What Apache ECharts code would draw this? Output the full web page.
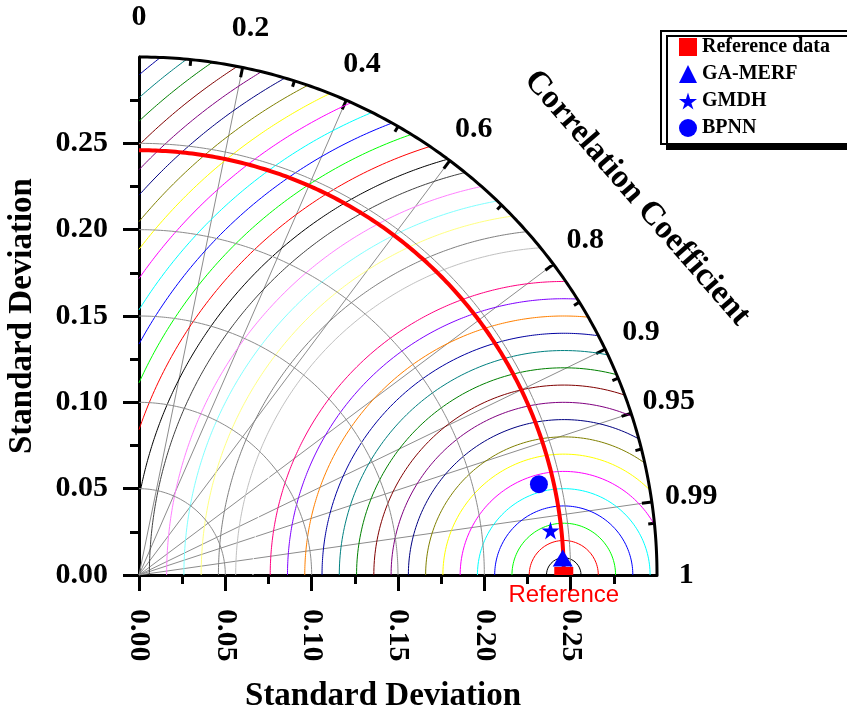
<!DOCTYPE html>
<html>
<head>
<meta charset="utf-8">
<script src="https://cdn.jsdelivr.net/npm/echarts@6/dist/echarts.min.js"></script>
<style>
  html, body { margin: 0; padding: 0; background: #fff; }
  #chart { width: 847px; height: 707px; }
</style>
</head>
<body>
<div id="chart"></div>
<script>
// Taylor diagram data
var refStd = 0.246;
var modelNames = ['GA-MERF', 'GMDH', 'BPNN'];
var modelStd = [0.2456, 0.2397, 0.2375];
var modelCorr = [0.9992, 0.9942, 0.9752];

var maxStd = 0.3;
var stdTicks = [0, 0.05, 0.10, 0.15, 0.20, 0.25];
var stdArcs = [0.05, 0.10, 0.15, 0.20, 0.25];
var corrMajor = [0.2, 0.4, 0.6, 0.8, 0.9, 0.95, 0.99];
var corrMinor = [0.1, 0.3, 0.5, 0.7, 0.85, 0.925, 0.97, 0.995];
var corrLabelValues = [0, 0.2, 0.4, 0.6, 0.8, 0.9, 0.95, 0.99, 1];
var corrLabels = ['0', '0.2', '0.4', '0.6', '0.8', '0.9', '0.95', '0.99', '1'];
var rmsLevels = [0.01, 0.02, 0.03, 0.04, 0.05, 0.06, 0.07, 0.08, 0.09, 0.10,
  0.11, 0.12, 0.13, 0.14, 0.15, 0.16, 0.17, 0.18, 0.19, 0.20,
  0.21, 0.22, 0.23, 0.24, 0.25, 0.26, 0.27, 0.28, 0.29, 0.30,
  0.31, 0.32, 0.33, 0.34, 0.35, 0.36, 0.37, 0.38];
// origin style colour cycle
var rmsColors = ['#000000', '#FF0000', '#00FF00', '#0000FF', '#00FFFF', '#FF00FF',
  '#FFFF00', '#808000', '#000080', '#800080', '#800000', '#008000',
  '#008080', '#0000A0', '#FF8000', '#8000FF', '#FF0080', '#FFFFFF',
  '#C0C0C0', '#808080', '#FFFF80', '#80FFFF', '#FF80FF', '#404040'];

var serif = 'Liberation Serif';
var starPath = 'path://M50,0 L61,35 L98,35 L68,57 L79,91 L50,70 L21,91 L32,57 L2,35 L39,35 Z';
var modelSymbols = ['triangle', starPath, 'circle'];
var modelSizes = [[20, 17], 18, 18];

function arcPoints(cx, r, a0, a1) {
  var pts = [];
  var n = 200;
  for (var i = 0; i <= n; i++) {
    var a = a0 + (a1 - a0) * i / n;
    pts.push([cx + r * Math.cos(a), r * Math.sin(a)]);
  }
  return pts;
}

function polar(s, corr) {
  var t = Math.acos(corr);
  return [s * Math.cos(t), s * Math.sin(t)];
}

var series = [];

// RMSD circles around the reference point, kept inside the quarter disk
rmsLevels.forEach(function (r, i) {
  var c = refStd, R = maxStd;
  var a0 = 0, a1 = Math.PI;
  if (c + r > R) {
    var x = (R * R - r * r + c * c) / (2 * c);
    a0 = Math.atan2(Math.sqrt(R * R - x * x), x - c);
  }
  if (r > c) {
    a1 = Math.atan2(Math.sqrt(r * r - c * c), -c);
  }
  if (a0 >= a1) return;
  series.push({
    type: 'line', silent: true, showSymbol: false, clip: false,
    data: arcPoints(c, r, a0, a1),
    lineStyle: { color: rmsColors[i % rmsColors.length], width: 1 }
  });
});

// standard deviation arcs
stdArcs.forEach(function (s) {
  series.push({
    type: 'line', silent: true, showSymbol: false, clip: false,
    data: arcPoints(0, s, 0, Math.PI / 2),
    lineStyle: { color: '#8c8c8c', width: 1 }
  });
});

// correlation radial lines
series.push({
  type: 'lines', coordinateSystem: 'cartesian2d', silent: true, polyline: false,
  data: corrMajor.map(function (c) { return { coords: [[0, 0], polar(maxStd, c)] }; }),
  lineStyle: { color: '#8c8c8c', width: 1, opacity: 1 }
});

// reference std arc
series.push({
  type: 'line', silent: true, showSymbol: false, clip: false,
  data: arcPoints(0, refStd, 0, Math.PI / 2),
  lineStyle: { color: '#ff0000', width: 4 }
});

// outer arc
series.push({
  type: 'line', silent: true, showSymbol: false, clip: false,
  data: arcPoints(0, maxStd, 0, Math.PI / 2),
  lineStyle: { color: '#000', width: 3 }
});

// ticks on the outer arc
var tickData = corrMajor.map(function (c) {
  return { coords: [polar(maxStd, c), polar(maxStd - 0.0058, c)] };
}).concat(corrMinor.map(function (c) {
  return { coords: [polar(maxStd, c), polar(maxStd - 0.0036, c)] };
}));
series.push({
  type: 'lines', coordinateSystem: 'cartesian2d', silent: true, clip: false,
  data: tickData,
  lineStyle: { color: '#000', width: 3, opacity: 1 }
});

// correlation labels
series.push({
  type: 'scatter', silent: true, clip: false, symbolSize: 0,
  itemStyle: { opacity: 1 },
  data: corrLabelValues.map(function (c, i) {
    var p = polar(c > 0.995 ? 0.317 : 0.323, c);
    return { value: p, name: corrLabels[i] };
  }),
  label: {
    show: true, position: 'inside', formatter: '{b}',
    fontFamily: serif, fontWeight: 'bold', fontSize: 30, color: '#000'
  }
});

// reference point
series.push({
  name: 'Reference data', type: 'scatter', clip: false,
  symbol: 'rect', symbolSize: [19, 8], symbolOffset: [0, -4],
  itemStyle: { color: '#ff0000', opacity: 1 },
  data: [[refStd, 0]],
  label: {
    show: true, position: 'bottom', distance: 8, formatter: 'Reference',
    fontFamily: 'Liberation Sans', fontSize: 24, color: '#ff0000'
  },
  z: 5
});

// models
modelNames.forEach(function (name, i) {
  series.push({
    name: name, type: 'scatter', clip: false,
    symbol: modelSymbols[i], symbolSize: modelSizes[i],
    itemStyle: { color: '#0000ff', opacity: 1 },
    data: [polar(modelStd[i], modelCorr[i])],
    z: 6
  });
});

var axisText = { fontFamily: serif, fontWeight: 'bold', fontSize: 30, color: '#000' };
var nameText = { fontFamily: serif, fontWeight: 'bold', fontSize: 33, color: '#000' };

function stdLabel(v) {
  return v > 0.26 ? '' : v.toFixed(2);
}

var option = {
  animation: false,
  backgroundColor: '#fff',
  grid: { left: 139, top: 57, width: 518, height: 518, outerBoundsMode: 'none', containLabel: false },
  xAxis: {
    type: 'value', min: 0, max: maxStd, interval: 0.05,
    splitLine: { show: false },
    axisLine: { onZero: false, lineStyle: { color: '#000', width: 3 } },
    axisTick: { customValues: stdTicks, length: 16, lineStyle: { color: '#000', width: 3 } },
    minorTick: { show: true, splitNumber: 2, length: 9, lineStyle: { color: '#000', width: 3 } },
    axisLabel: Object.assign({ customValues: stdTicks, rotate: -90, margin: 34, formatter: stdLabel }, axisText),
    name: 'Standard Deviation', nameLocation: 'middle', nameGap: 105,
    nameTextStyle: Object.assign({ padding: [0, 30, 0, 0] }, nameText)
  },
  yAxis: {
    type: 'value', min: 0, max: maxStd, interval: 0.05,
    splitLine: { show: false },
    axisLine: { onZero: false, lineStyle: { color: '#000', width: 3 } },
    axisTick: { customValues: stdTicks, length: 16, lineStyle: { color: '#000', width: 3 } },
    minorTick: { show: true, splitNumber: 2, length: 9, lineStyle: { color: '#000', width: 3 } },
    axisLabel: Object.assign({ customValues: stdTicks, margin: 31, formatter: stdLabel }, axisText),
    name: 'Standard Deviation', nameLocation: 'middle', nameGap: 100, nameRotate: 90,
    nameTextStyle: nameText
  },
  legend: {
    left: 661, top: 31, orient: 'vertical', selectedMode: false,
    data: [
      { name: 'Reference data', icon: 'rect' },
      { name: 'GA-MERF', icon: 'triangle' },
      { name: 'GMDH', icon: starPath },
      { name: 'BPNN', icon: 'circle' }
    ],
    itemWidth: 18, itemHeight: 18, itemGap: 7, itemTextGap: 14,
    padding: [6, 40, 6, 18],
    textStyle: { fontFamily: serif, fontWeight: 'bold', fontSize: 20, color: '#000' },
    backgroundColor: '#fff', borderColor: '#000', borderWidth: 2,
    shadowColor: '#000', shadowOffsetX: 6, shadowOffsetY: 5, shadowBlur: 0
  },
  graphic: [{
    type: 'text', x: 637, y: 198, rotation: -49 * Math.PI / 180,
    style: {
      text: 'Correlation Coefficient', x: 0, y: 0, align: 'center', verticalAlign: 'middle',
      font: 'bold 33px "Liberation Serif"', fill: '#000'
    }
  }],
  series: series
};

var chart = echarts.init(document.getElementById('chart'));
chart.setOption(option);
</script>
</body>
</html>
